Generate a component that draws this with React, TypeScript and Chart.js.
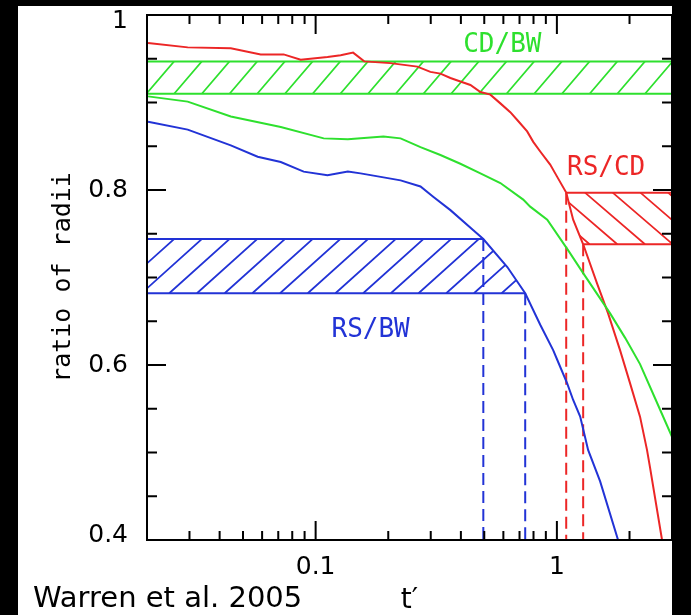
import { useEffect, useRef } from 'react';
import { Chart, registerables } from 'chart.js';

Chart.register(...registerables);

const X_MIN = 0.02;
const X_MAX = 3;
const Y_MIN = 0.4;
const Y_MAX = 1;

const xLabelTicks = [0.1, 1];
const xMinorTicks = [0.03, 0.04, 0.05, 0.06, 0.07, 0.08, 0.09, 0.2, 0.3, 0.4, 0.5, 0.6, 0.7, 0.8, 0.9, 2];
const yLabelTicks = [0.4, 0.6, 0.8, 1];
const yMinorTicks = [0.45, 0.5, 0.55, 0.65, 0.7, 0.75, 0.85, 0.9, 0.95];

// red curve (RS/CD)
const redX = [0.0202, 0.0295, 0.0445, 0.0592, 0.0737, 0.0867, 0.112, 0.127, 0.143, 0.159, 0.204, 0.264, 0.299, 0.329, 0.362, 0.398, 0.438, 0.482, 0.53, 0.583, 0.641, 0.685, 0.753, 0.798, 0.853, 0.938, 1.003, 1.093, 1.168, 1.285, 1.468, 1.63, 1.827, 2.011, 2.211, 2.363, 2.432, 2.728];
const redY = [0.968, 0.963, 0.962, 0.955, 0.955, 0.949, 0.952, 0.954, 0.957, 0.947, 0.945, 0.941, 0.935, 0.933, 0.928, 0.924, 0.92, 0.912, 0.909, 0.899, 0.889, 0.88, 0.867, 0.855, 0.844, 0.829, 0.815, 0.797, 0.766, 0.738, 0.693, 0.659, 0.617, 0.579, 0.541, 0.503, 0.483, 0.4];

// green curve (CD/BW)
const greenX = [0.0202, 0.0295, 0.0445, 0.0717, 0.108, 0.136, 0.191, 0.225, 0.272, 0.329, 0.398, 0.482, 0.583, 0.7253, 0.775, 0.912, 1.114, 1.285, 1.662, 1.918, 2.211, 2.552, 3.0];
const greenY = [0.907, 0.901, 0.884, 0.872, 0.859, 0.858, 0.861, 0.859, 0.849, 0.84, 0.83, 0.819, 0.808, 0.789, 0.781, 0.766, 0.731, 0.705, 0.659, 0.631, 0.601, 0.562, 0.518];

// blue curve (RS/BW)
const blueX = [0.0202, 0.0295, 0.0445, 0.0575, 0.0717, 0.0892, 0.112, 0.136, 0.1535, 0.186, 0.225, 0.272, 0.308, 0.362, 0.4505, 0.4955, 0.623, 0.739, 0.853, 0.965, 1.003, 1.103, 1.168, 1.249, 1.347, 1.511, 1.793];
const blueY = [0.878, 0.869, 0.851, 0.838, 0.832, 0.821, 0.817, 0.821, 0.819, 0.815, 0.811, 0.804, 0.792, 0.777, 0.754, 0.744, 0.712, 0.682, 0.646, 0.617, 0.606, 0.579, 0.56, 0.541, 0.503, 0.467, 0.4];

// observed ranges (hatched bands)
const cdBwBand = [0.91, 0.947];
const rsCdBand = [0.738, 0.797];
const rsBwBand = [0.682, 0.744];
// t' where the curves meet the band edges (dashed drops)
const rsBwDropX = [0.4955, 0.739];
const rsCdDropX = [1.093, 1.285];

const bandLabels = ['CD/BW', 'RS/CD', 'RS/BW'];
const bandLabelX = [0.594, 1.6, 0.169];
const bandLabelY = [0.966, 0.825, 0.64];

const RED = '#ec2626';
const GREEN = '#2ee02e';
const BLUE = '#2233d6';
const LABEL_COLORS = [GREEN, RED, BLUE];

const pts = (xs: number[], ys: number[]) => xs.map((x, i) => ({ x, y: ys[i] }));

const line = (data: any[], color: string, extra: any = {}) => ({
  data,
  borderColor: color,
  backgroundColor: color,
  borderWidth: 2,
  pointRadius: 0,
  showLine: true,
  fill: false,
  tension: 0,
  ...extra,
});

const hatchPlugin = {
  id: 'hatch',
  beforeDatasetsDraw(chart: any) {
    const { ctx, chartArea: a, scales } = chart;
    const px = (v: number) => scales.x.getPixelForValue(v);
    const py = (v: number) => scales.y.getPixelForValue(v);
    const curve = (xs: number[], ys: number[]) => {
      xs.forEach((v, i) => (i ? ctx.lineTo(px(v), py(ys[i])) : ctx.moveTo(px(v), py(ys[i]))));
    };
    const hatch = (band: number[], color: string, slope: number, dir: number, region?: () => void) => {
      const top = py(band[1]);
      const bot = py(band[0]);
      const h = bot - top;
      const run = h / slope;
      ctx.save();
      ctx.beginPath();
      ctx.rect(a.left, top, a.right - a.left, h);
      ctx.clip();
      if (region) {
        ctx.beginPath();
        region();
        ctx.closePath();
        ctx.clip();
      }
      ctx.strokeStyle = color;
      ctx.lineWidth = 1.7;
      ctx.beginPath();
      for (let sx = a.left - run - 56; sx < a.right + 28; sx += 27.7) {
        if (dir > 0) {
          ctx.moveTo(sx, bot);
          ctx.lineTo(sx + run, top);
        } else {
          ctx.moveTo(sx, top);
          ctx.lineTo(sx + run, bot);
        }
      }
      ctx.stroke();
      ctx.restore();
    };
    hatch(cdBwBand, GREEN, 1.17, 1);
    hatch(rsBwBand, BLUE, 0.9, 1, () => {
      curve(blueX, blueY);
      ctx.lineTo(a.left, a.bottom + 5);
      ctx.lineTo(a.left, a.top);
    });
    hatch(rsCdBand, RED, 0.86, -1, () => {
      curve(redX, redY);
      ctx.lineTo(a.right, a.bottom);
      ctx.lineTo(a.right, a.top);
      ctx.lineTo(a.left, a.top);
    });
  },
  afterDraw(chart: any) {
    const { ctx, chartArea: a, scales } = chart;
    const px = (v: number) => scales.x.getPixelForValue(v);
    const py = (v: number) => scales.y.getPixelForValue(v);
    ctx.save();
    ctx.strokeStyle = '#000';
    ctx.lineWidth = 2;
    ctx.strokeRect(a.left, a.top, a.right - a.left, a.bottom - a.top);
    ctx.beginPath();
    const xt = (v: number, len: number) => {
      const p = px(v);
      ctx.moveTo(p, a.bottom);
      ctx.lineTo(p, a.bottom - len);
      ctx.moveTo(p, a.top);
      ctx.lineTo(p, a.top + len);
    };
    const yt = (v: number, len: number) => {
      const p = py(v);
      ctx.moveTo(a.left, p);
      ctx.lineTo(a.left + len, p);
      ctx.moveTo(a.right, p);
      ctx.lineTo(a.right - len, p);
    };
    xMinorTicks.forEach((v) => xt(v, 9));
    xLabelTicks.forEach((v) => xt(v, 19));
    yMinorTicks.forEach((v) => yt(v, 10));
    yLabelTicks.forEach((v) => yt(v, 19));
    ctx.stroke();

    ctx.textAlign = 'center';
    ctx.textBaseline = 'middle';
    ctx.font = '26px "DejaVu Sans Mono"';
    bandLabels.forEach((t, i) => {
      ctx.fillStyle = LABEL_COLORS[i];
      ctx.fillText(t, px(bandLabelX[i]), py(bandLabelY[i]));
    });

    ctx.textAlign = 'left';
    ctx.textBaseline = 'alphabetic';
    ctx.fillStyle = '#000';
    ctx.font = '29px "DejaVu Sans"';
    ctx.fillText('Warren et al. 2005', 33, 607);
    ctx.restore();
  },
};

export default function App() {
  const ref = useRef<HTMLCanvasElement | null>(null);
  useEffect(() => {
    if (!ref.current) return;
    const chart = new Chart(ref.current, {
      type: 'scatter',
      data: {
        datasets: [
          line(pts(greenX, greenY), GREEN),
          line(pts(blueX, blueY), BLUE),
          line(pts(redX, redY), RED),
          line([{ x: X_MIN, y: cdBwBand[0] }, { x: X_MAX, y: cdBwBand[0] }], GREEN),
          line([{ x: X_MIN, y: cdBwBand[1] }, { x: X_MAX, y: cdBwBand[1] }], GREEN),
          line([{ x: X_MIN, y: rsBwBand[1] }, { x: rsBwDropX[0], y: rsBwBand[1] }], BLUE),
          line([{ x: X_MIN, y: rsBwBand[0] }, { x: rsBwDropX[1], y: rsBwBand[0] }], BLUE),
          line([{ x: rsCdDropX[0], y: rsCdBand[1] }, { x: X_MAX, y: rsCdBand[1] }], RED),
          line([{ x: rsCdDropX[1], y: rsCdBand[0] }, { x: X_MAX, y: rsCdBand[0] }], RED),
          line([{ x: rsBwDropX[0], y: rsBwBand[1] }, { x: rsBwDropX[0], y: Y_MIN }], BLUE, { borderDash: [12, 6] }),
          line([{ x: rsBwDropX[1], y: rsBwBand[0] }, { x: rsBwDropX[1], y: Y_MIN }], BLUE, { borderDash: [12, 6] }),
          line([{ x: rsCdDropX[0], y: rsCdBand[1] }, { x: rsCdDropX[0], y: Y_MIN }], RED, { borderDash: [12, 6] }),
          line([{ x: rsCdDropX[1], y: rsCdBand[0] }, { x: rsCdDropX[1], y: Y_MIN }], RED, { borderDash: [12, 6] }),
        ],
      },
      options: {
        animation: false,
        responsive: false,
        devicePixelRatio: 1,
        layout: { padding: { top: 15, right: 19, bottom: 0, left: 0 } },
        plugins: { legend: { display: false }, tooltip: { enabled: false } },
        scales: {
          x: {
            type: 'logarithmic',
            min: X_MIN,
            max: X_MAX,
            grid: { display: false, drawTicks: false },
            border: { display: false },
            afterBuildTicks: (axis: any) => {
              axis.ticks = xLabelTicks.map((v) => ({ value: v }));
            },
            afterFit: (axis: any) => {
              axis.height = 75;
              axis.paddingLeft = 0;
              axis.paddingRight = 0;
            },
            ticks: {
              autoSkip: false,
              maxRotation: 0,
              padding: 12,
              color: '#000',
              font: { family: 'DejaVu Sans', size: 25, lineHeight: 1.2 },
              callback: (v: any) => String(v),
            },
            title: {
              display: true,
              text: 't′',
              color: '#000',
              font: { family: 'DejaVu Sans', size: 28, lineHeight: 1 },
              padding: { top: 0, bottom: 0 },
            },
          },
          y: {
            type: 'linear',
            min: Y_MIN,
            max: Y_MAX,
            grid: { display: false, drawTicks: false },
            border: { display: false },
            afterBuildTicks: (axis: any) => {
              axis.ticks = yLabelTicks.map((v) => ({ value: v }));
            },
            afterFit: (axis: any) => {
              axis.width = 147;
              axis.paddingTop = 0;
              axis.paddingBottom = 0;
            },
            ticks: {
              autoSkip: false,
              padding: 19,
              color: '#000',
              font: (c: any) => {
                const v = c.tick ? c.tick.value : 0;
                const lh = v === Y_MAX ? 0.48 : v === Y_MIN ? 0.4 : 1;
                return { family: 'DejaVu Sans', size: 25, lineHeight: lh };
              },
              // the end labels sit a little inside the frame, as in the original
              callback: (v: any) => {
                if (v === Y_MAX) return ['', '1'];
                if (v === Y_MIN) return [Number(v).toFixed(1), ''];
                return Number(v).toFixed(1);
              },
            },
            title: {
              display: true,
              text: 'ratio of radii',
              color: '#000',
              font: { family: 'DejaVu Sans Mono', size: 25, lineHeight: 1 },
              padding: { top: 51, bottom: 0 },
            },
          },
        },
      },
      plugins: [hatchPlugin],
    } as any);
    return () => chart.destroy();
  }, []);

  return (
    <div style={{ position: 'absolute', left: 0, top: 0, width: 691, height: 615, background: '#000', overflow: 'hidden' }}>
      <div style={{ position: 'absolute', left: 18, top: 6, width: 654, height: 609, background: '#fff' }} />
      <canvas ref={ref} width={691} height={615} style={{ position: 'absolute', left: 0, top: 0, width: 691, height: 615 }} />
    </div>
  );
}
